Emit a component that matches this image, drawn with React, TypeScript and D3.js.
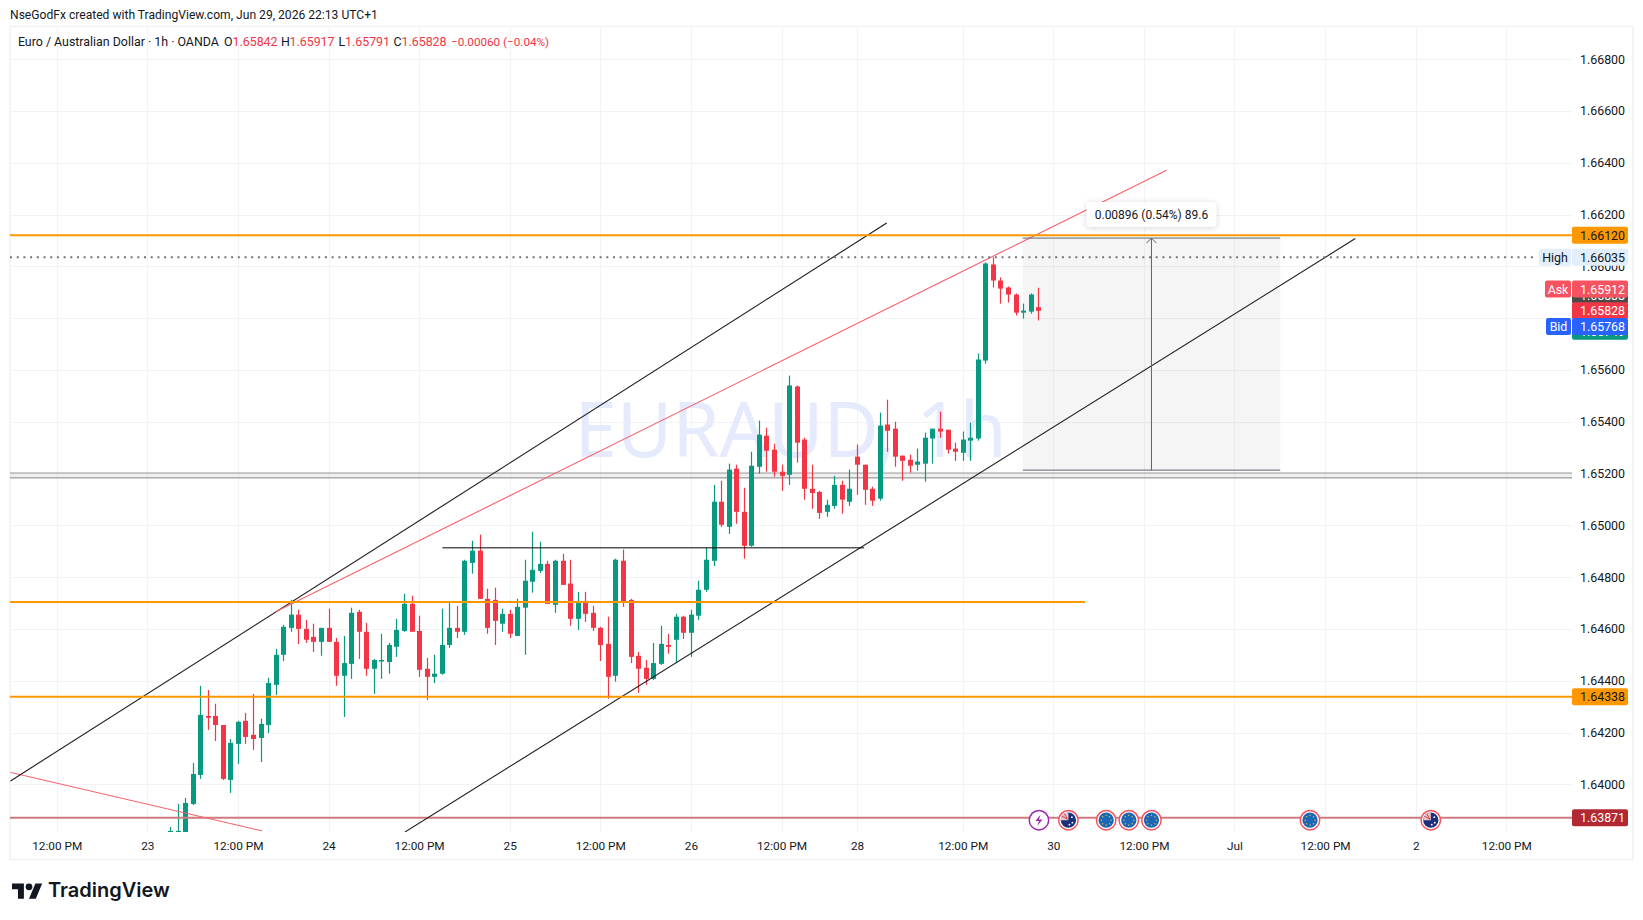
import { useEffect, useRef } from "react";
import * as d3 from "d3";

const FONT = "Roboto, sans-serif";
const FONT_SIZE = 12.4;
const FIRST_BAR = 15;

const opens = [
  1.63808, 1.63808, 1.63746, 1.63924, 1.64036, 1.64264, 1.64264, 1.64229, 1.64017, 1.64156,
  1.64245, 1.64191, 1.64179, 1.64229, 1.64384, 1.645, 1.64604, 1.64655, 1.646, 1.64569,
  1.6455, 1.64604, 1.6455, 1.64419, 1.64465, 1.64666, 1.64589, 1.64446, 1.64476, 1.64472,
  1.64531, 1.64592, 1.64697, 1.64592, 1.64446, 1.64415, 1.64427, 1.64538, 1.64604, 1.64589,
  1.64855, 1.64902, 1.64716, 1.64712, 1.6462, 1.64658, 1.64573, 1.64682, 1.64782, 1.64824,
  1.64851, 1.64693, 1.64863, 1.64775, 1.64639, 1.64708, 1.64662, 1.64604, 1.64542, 1.64419,
  1.64863, 1.64712, 1.64496, 1.6445, 1.64407, 1.64465, 1.64538, 1.64558, 1.64647, 1.64585,
  1.64651, 1.64751, 1.64863, 1.65091, 1.64994, 1.65219, 1.65052, 1.64921, 1.65226, 1.65346,
  1.65292, 1.65207, 1.65195, 1.65536, 1.65331, 1.65141, 1.65129, 1.65052, 1.65075, 1.65156,
  1.65091, 1.65265, 1.65234, 1.65141, 1.65103, 1.65389, 1.65373, 1.65269, 1.65253, 1.65234,
  1.65238, 1.65335, 1.65373, 1.65369, 1.65296, 1.6528, 1.65327, 1.65335, 1.65636, 1.66007,
  1.65945, 1.65918, 1.65891, 1.65821, 1.65825, 1.65842,
];
const highs = [
  1.63835, 1.63924, 1.63947, 1.64082, 1.6438, 1.64364, 1.64311, 1.64229, 1.64175, 1.64245,
  1.64276, 1.64349, 1.64253, 1.64411, 1.64523, 1.64616, 1.64712, 1.64674, 1.64635, 1.6462,
  1.64604, 1.64678, 1.64565, 1.64573, 1.64682, 1.64674, 1.64623, 1.64484, 1.64581, 1.64546,
  1.64639, 1.64736, 1.64728, 1.64651, 1.64488, 1.645, 1.64678, 1.64701, 1.64689, 1.64867,
  1.6494, 1.64964, 1.64755, 1.64759, 1.64678, 1.64674, 1.64716, 1.64867, 1.64975, 1.64936,
  1.64863, 1.64867, 1.6489, 1.64867, 1.64743, 1.64743, 1.64689, 1.64608, 1.64647, 1.64871,
  1.64906, 1.64716, 1.64511, 1.6448, 1.64546, 1.64612, 1.64581, 1.64658, 1.64651, 1.64674,
  1.64786, 1.64913, 1.65156, 1.65172, 1.65238, 1.65234, 1.65145, 1.65284, 1.65404, 1.65377,
  1.65315, 1.65234, 1.65578, 1.6554, 1.65338, 1.65234, 1.65133, 1.65099, 1.65191, 1.65172,
  1.65215, 1.65312, 1.65234, 1.65149, 1.65435, 1.65485, 1.654, 1.65269, 1.65273, 1.65296,
  1.65358, 1.65373, 1.65439, 1.65369, 1.65319, 1.65362, 1.65396, 1.65663, 1.66015, 1.66035,
  1.65957, 1.65922, 1.65895, 1.65856, 1.65895, 1.65917,
];
const lows = [
  1.63785, 1.63777, 1.63727, 1.6392, 1.64021, 1.6421, 1.64167, 1.64017, 1.63967, 1.64079,
  1.64156, 1.64133, 1.64086, 1.64198, 1.64345, 1.64476, 1.64589, 1.64542, 1.64546, 1.64511,
  1.64496, 1.6455, 1.6438, 1.6426, 1.64407, 1.64484, 1.64419, 1.64349, 1.64407, 1.64427,
  1.64492, 1.64589, 1.64589, 1.64415, 1.64326, 1.64391, 1.64423, 1.64527, 1.64565, 1.64577,
  1.64813, 1.64716, 1.64581, 1.64538, 1.64589, 1.64565, 1.64573, 1.645, 1.6474, 1.64816,
  1.64697, 1.64662, 1.6477, 1.64612, 1.64596, 1.64627, 1.64592, 1.64476, 1.6433, 1.64396,
  1.64685, 1.64468, 1.64353, 1.64384, 1.64403, 1.64461, 1.64504, 1.64468, 1.64561, 1.64492,
  1.64635, 1.64743, 1.64843, 1.64994, 1.64967, 1.65006, 1.64871, 1.64917, 1.65199, 1.65207,
  1.65188, 1.65133, 1.65156, 1.65242, 1.65099, 1.65064, 1.65025, 1.65033, 1.65064, 1.65045,
  1.65075, 1.65118, 1.65079, 1.65075, 1.65095, 1.65284, 1.65226, 1.65172, 1.65203, 1.65211,
  1.65168, 1.65238, 1.65338, 1.65277, 1.65249, 1.65249, 1.65249, 1.65327, 1.65624, 1.65918,
  1.65856, 1.6586, 1.6581, 1.65798, 1.65817, 1.65791,
];
const closes = [
  1.6382, 1.6382, 1.63928, 1.6404, 1.64268, 1.64257, 1.64229, 1.64021, 1.6416, 1.64241,
  1.64183, 1.64175, 1.64233, 1.64391, 1.645, 1.64608, 1.64655, 1.646, 1.64558, 1.6455,
  1.64604, 1.6455, 1.64419, 1.64468, 1.64662, 1.64589, 1.64446, 1.6448, 1.6448, 1.64538,
  1.64596, 1.64697, 1.64589, 1.64442, 1.64415, 1.64427, 1.64538, 1.64604, 1.64589, 1.64863,
  1.64902, 1.64716, 1.64604, 1.64631, 1.64658, 1.64581, 1.64685, 1.64786, 1.64828, 1.64851,
  1.64697, 1.64863, 1.6477, 1.64639, 1.64708, 1.64658, 1.64604, 1.64538, 1.64415, 1.64867,
  1.64704, 1.64492, 1.64446, 1.64407, 1.64468, 1.64542, 1.64531, 1.64647, 1.64585, 1.64655,
  1.64751, 1.64867, 1.65091, 1.65002, 1.65215, 1.65052, 1.64921, 1.6523, 1.6535, 1.65288,
  1.65207, 1.65191, 1.6554, 1.65319, 1.65141, 1.65125, 1.65048, 1.65079, 1.65156, 1.65099,
  1.65141, 1.65234, 1.65137, 1.65095, 1.65385, 1.65365, 1.65265, 1.65249, 1.6523, 1.65246,
  1.65338, 1.65373, 1.65362, 1.65292, 1.65284, 1.65331, 1.65338, 1.6564, 1.66011, 1.65945,
  1.65914, 1.65891, 1.65821, 1.65829, 1.65891, 1.65828,
];

const timeLabels = [
  "12:00 PM", "23", "12:00 PM", "24", "12:00 PM", "25", "12:00 PM", "26", "12:00 PM",
  "28", "12:00 PM", "30", "12:00 PM", "Jul", "12:00 PM", "2", "12:00 PM",
];
// every 12 bars, except "28" which sits 2 bars early after the weekend gap
const timeTicks = [0, 12, 24, 36, 48, 60, 72, 84, 96, 106, 120, 132, 144, 156, 168, 180, 192];
const priceTicks = d3.range(14, -1, -1).map((i) => 1.64 + i * 0.002);

const levelUpper = 1.6612;
const levelMid = 1.64704;
const levelLower = 1.64338;
const levelBase = 1.63871;
const dayHigh = 1.66035;
const greyBand = [1.65202, 1.65183];
const shelfPrice = 1.64913;
const shelfBars = [51.08, 106.94];
const midEndBar = 136.2;

// [bar, price] pairs of the hand drawn trend lines
const channelUpper = [[-6.12, 1.64013], [109.93, 1.66167]];
const channelLower = [[46.14, 1.63816], [172, 1.66107]];
const redRising = [[29, 1.64666], [147, 1.66371]];
const redFalling = [[-6.12, 1.64046], [27.2, 1.6382]];

const measureBars = [127.96, 162.06];
const measureArrowBar = 145;
const measurePrices = [1.66109, 1.65213];

const euEvents = [139, 142, 145, 166];
const auEvents = [134, 182];
const flashEvents = [130.1];

const GREEN = "#089981";
const RED = "#F23645";
const ORANGE = "#FF9800";
const GRID = "#f2f3f5";
const INK = "#131722";

export default function App() {
  const svgRef = useRef<SVGSVGElement>(null);

  useEffect(() => {
    const svg = d3.select(svgRef.current);
    svg.selectAll("*").remove();

    const pane = { left: 10, right: 1572, top: 27, bottom: 832 };
    const x = d3.scaleLinear().domain([0, 192]).range([56.7, 1506.3]);
    const y = d3.scaleLinear().domain([1.64, 1.668]).range([784.3, 59.1]);

    // Outer frame
    svg.append("rect").attr("x", 10).attr("y", 26.5).attr("width", 1623).attr("height", 833)
      .attr("fill", "#fff").attr("stroke", "#f0f1f3").attr("stroke-width", 1.5);

    svg.append("text").attr("x", 10).attr("y", 19).text("NseGodFx created with TradingView.com, Jun 29, 2026 22:13 UTC+1")
      .attr("font-size", 12.1).attr("fill", INK).style("font-family", FONT);

    svg.append("defs").append("clipPath").attr("id", "pane").append("rect")
      .attr("x", pane.left).attr("y", pane.top)
      .attr("width", pane.right - pane.left).attr("height", pane.bottom - pane.top);

    // Grid
    const grid = svg.append("g");
    grid.selectAll("line.h").data(priceTicks).join("line")
      .attr("x1", pane.left).attr("x2", pane.right)
      .attr("y1", (d) => Math.round(y(d)) + 0.5).attr("y2", (d) => Math.round(y(d)) + 0.5)
      .attr("stroke", GRID);
    grid.selectAll("line.v").data(timeTicks).join("line")
      .attr("x1", (d) => Math.round(x(d)) + 0.5).attr("x2", (d) => Math.round(x(d)) + 0.5)
      .attr("y1", pane.top).attr("y2", pane.bottom)
      .attr("stroke", GRID);

    const plot = svg.append("g").attr("clip-path", "url(#pane)");

    // Watermark
    plot.append("text").attr("x", 790.5).attr("y", 457).attr("text-anchor", "middle")
      .attr("font-size", 76).attr("fill", "#e5ebfd").style("font-family", "'Noto Sans', sans-serif")
      .text("EURAUD, 1h");

    // Measure box sits under the candles
    const mx0 = x(measureBars[0]);
    const mx1 = x(measureBars[1]);
    const my0 = y(measurePrices[0]);
    const my1 = y(measurePrices[1]);
    plot.append("rect").attr("x", mx0).attr("y", my0).attr("width", mx1 - mx0).attr("height", my1 - my0)
      .attr("fill", "rgba(110,110,110,0.065)");

    // Grey band
    plot.append("rect").attr("x", pane.left).attr("width", pane.right - pane.left)
      .attr("y", y(greyBand[0])).attr("height", y(greyBand[1]) - y(greyBand[0]))
      .attr("fill", "rgba(120,120,120,0.12)");
    plot.selectAll("line.band").data(greyBand).join("line")
      .attr("x1", pane.left).attr("x2", pane.right)
      .attr("y1", (d) => y(d)).attr("y2", (d) => y(d))
      .attr("stroke", "#9b9b9b").attr("stroke-width", 1.2);

    // Candles
    const bars = opens.map((o, i) => ({
      i: FIRST_BAR + i, o, h: highs[i], l: lows[i], c: closes[i],
    }));
    const candle = plot.selectAll("g.candle").data(bars).join("g");
    const cx = (d: { i: number }) => Math.round(x(d.i)) + 0.5;
    const colour = (d: { o: number; c: number }) => (d.c >= d.o ? GREEN : RED);
    candle.append("rect")
      .attr("x", (d) => cx(d) - 0.6).attr("width", 1.2)
      .attr("y", (d) => y(d.h)).attr("height", (d) => y(d.l) - y(d.h))
      .attr("fill", colour);
    candle.append("rect")
      .attr("x", (d) => cx(d) - 2.5).attr("width", 5)
      .attr("y", (d) => y(Math.max(d.o, d.c)))
      .attr("height", (d) => Math.max(1.5, Math.abs(y(d.o) - y(d.c))))
      .attr("fill", colour);

    const segment = d3.line<number[]>().x((d) => x(d[0])).y((d) => y(d[1]));
    const drawLine = (pts: number[][], stroke: string, width: number) =>
      plot.append("path").attr("d", segment(pts)).attr("fill", "none")
        .attr("stroke", stroke).attr("stroke-width", width);

    // Level lines and trend lines
    const xMin = x.invert(pane.left);
    const xMax = x.invert(pane.right);
    drawLine([[xMin, levelBase], [xMax, levelBase]], "#cf7a81", 2);
    drawLine(redFalling, "#f7606c", 1);
    drawLine(channelUpper, "#1c1c1c", 1.1);
    drawLine(channelLower, "#1c1c1c", 1.1);
    drawLine(redRising, "#f7606c", 1.1);
    drawLine([[shelfBars[0], shelfPrice], [shelfBars[1], shelfPrice]], "#000", 1);
    drawLine([[xMin, levelUpper], [xMax, levelUpper]], ORANGE, 2);
    drawLine([[xMin, levelMid], [midEndBar, levelMid]], ORANGE, 2);
    drawLine([[xMin, levelLower], [xMax, levelLower]], ORANGE, 2);
    drawLine([[xMin, dayHigh], [x.invert(1536), dayHigh]], "#72747a", 2)
      .attr("stroke-dasharray", "2 4.7");

    // Measure tool lines
    const ax = x(measureArrowBar);
    [my0, my1].forEach((v) => {
      plot.append("line").attr("x1", mx0).attr("x2", mx1).attr("y1", v).attr("y2", v)
        .attr("stroke", "#5d606b").attr("stroke-width", 1);
    });
    plot.append("line").attr("x1", ax).attr("x2", ax).attr("y1", my0).attr("y2", my1)
      .attr("stroke", "#5d606b").attr("stroke-width", 1);
    plot.append("path").attr("d", `M${ax - 5},${my0 + 5}L${ax},${my0}L${ax + 5},${my0 + 5}`)
      .attr("fill", "none").attr("stroke", "#5d606b").attr("stroke-width", 1);
    const boxW = 130;
    plot.append("rect").attr("x", ax - boxW / 2).attr("y", my0 - 36).attr("width", boxW).attr("height", 25)
      .attr("rx", 4).attr("fill", "#fff").style("filter", "drop-shadow(0 1px 3px rgba(0,0,0,0.16))");
    plot.append("text").attr("x", ax).attr("y", my0 - 19).attr("text-anchor", "middle")
      .attr("font-size", 12).attr("fill", INK).style("font-family", FONT)
      .text("0.00896 (0.54%) 89.6");

    // Event badges on the base line
    const eventY = y(levelBase) + 2.5;
    const badge = (bar: number) => {
      const g = plot.append("g").attr("transform", `translate(${x(bar)},${eventY})`);
      return g;
    };
    const ring = (g: any, stroke: string) =>
      g.append("circle").attr("r", 9.7).attr("fill", "#fff").attr("stroke", stroke).attr("stroke-width", 1.5);
    euEvents.forEach((bar) => {
      const g = badge(bar);
      ring(g, "#f7525f");
      g.append("circle").attr("r", 7.6).attr("fill", "#1a66b8");
      d3.range(8).forEach((n) => {
        const a = (n / 8) * 2 * Math.PI;
        g.append("circle").attr("cx", 4.9 * Math.cos(a)).attr("cy", 4.9 * Math.sin(a))
          .attr("r", 0.8).attr("fill", "#c9b94a");
      });
    });
    auEvents.forEach((bar) => {
      const g = badge(bar);
      ring(g, "#f7525f");
      g.append("circle").attr("r", 7.6).attr("fill", "#1c2f7a");
      g.append("path").attr("d", "M0,0L-7.6,0A7.6,7.6 0 0 1 0,-7.6Z").attr("fill", "#e9c4cb");
      g.append("path").attr("d", "M-6.5,-4L-1,-1M-4,-6.5L-1,-1").attr("stroke", "#d8404f").attr("stroke-width", 1);
      [[3.5, -3], [4, 2.5], [1, 4.5]].forEach((p) => {
        g.append("circle").attr("cx", p[0]).attr("cy", p[1]).attr("r", 0.9).attr("fill", "#fff");
      });
    });
    flashEvents.forEach((bar) => {
      const g = badge(bar);
      ring(g, "#9c27b0");
      g.append("path").attr("d", "M1.5,-5.5L-3.5,0.8H0L-1.5,5.5L3.5,-0.8H0Z").attr("fill", "#9c27b0");
    });

    // Price axis
    const priceAxis = d3.axisRight(y).tickValues(priceTicks).tickSize(0).tickPadding(8)
      .tickFormat((d) => (+d).toFixed(5));
    svg.append("g").attr("transform", `translate(${pane.right},0)`).call(priceAxis)
      .call((g) => {
        g.select(".domain").remove();
        g.selectAll("text").attr("font-size", FONT_SIZE).attr("fill", INK).style("font-family", FONT);
      });

    // Time axis
    const timeAxis = d3.axisBottom(x).tickValues(timeTicks).tickSize(0).tickPadding(10)
      .tickFormat((_, i) => timeLabels[i]);
    svg.append("g").attr("transform", `translate(0,${pane.bottom})`).call(timeAxis)
      .call((g) => {
        g.select(".domain").remove();
        g.selectAll("text").attr("font-size", 11.8).attr("fill", INK).style("font-family", FONT);
      });

    // Price tags on the axis
    const tag = (price: number, text: string, bg: string, fg: string, side?: string, sideW = 26) => {
      const py = y(price);
      const g = svg.append("g").attr("transform", `translate(${pane.right},${py})`);
      g.append("rect").attr("x", 0).attr("y", -8.5).attr("width", 56).attr("height", 17).attr("rx", 2).attr("fill", bg);
      g.append("text").attr("x", 8).attr("y", 4.5).attr("font-size", FONT_SIZE).attr("fill", fg)
        .style("font-family", FONT).text(text);
      if (side) {
        g.append("rect").attr("x", -sideW - 1).attr("y", -8.5).attr("width", sideW).attr("height", 17)
          .attr("rx", 2).attr("fill", bg);
        g.append("text").attr("x", -1 - sideW / 2).attr("y", 4.5).attr("text-anchor", "middle")
          .attr("font-size", FONT_SIZE).attr("fill", fg).style("font-family", FONT).text(side);
      }
    };
    tag(levelUpper, "1.66120", ORANGE, INK);
    tag(dayHigh, "1.66035", "#e3eefb", INK, "High", 32);
    tag(1.65888, "1.65888", "#4a4a4a", "#fff");
    tag(1.65749, "1.65749", GREEN, "#fff");
    tag(1.65828, "1.65828", RED, "#fff");
    tag(1.65768, "1.65768", "#2962FF", "#fff", "Bid", 25);
    tag(1.65912, "1.65912", "#f7525f", "#fff", "Ask", 26);
    tag(levelLower, "1.64338", ORANGE, INK);
    tag(levelBase, "1.63871", "#b22833", "#fff");

    // Legend
    const legend: [number, string, string, number][] = [
      [17.9, "Euro / Australian Dollar · 1h · OANDA", INK, FONT_SIZE],
      [224, "O", INK, FONT_SIZE], [232.5, "1.65842", RED, FONT_SIZE],
      [281, "H", INK, FONT_SIZE], [289.5, "1.65917", RED, FONT_SIZE],
      [338.5, "L", INK, FONT_SIZE], [345, "1.65791", RED, FONT_SIZE],
      [393.5, "C", INK, FONT_SIZE], [401.5, "1.65828", RED, FONT_SIZE],
      [451, "−0.00060 (−0.04%)", RED, 11.7],
    ];
    legend.forEach(([lx, text, fill, size]) => {
      svg.append("text").attr("x", lx).attr("y", 46).attr("font-size", size)
        .attr("fill", fill).style("font-family", FONT).text(text);
    });

    // Logo
    const logo = svg.append("g").attr("transform", "translate(12,880) scale(0.85)").attr("fill", "#131722");
    logo.append("path").attr("d", "M14 22H7V11H0V4h14v18zM28 22h-8l7.5-18h8L28 22z");
    logo.append("circle").attr("cx", 20).attr("cy", 8).attr("r", 4);
    svg.append("text").attr("x", 48).attr("y", 897).attr("font-size", 20).attr("font-weight", 600)
      .attr("fill", "#131722").style("font-family", "Inter, sans-serif").text("TradingView");
  }, []);

  return (
    <svg
      ref={svgRef}
      width={1643}
      height={920}
      style={{ position: "absolute", left: 0, top: 0, background: "#fff" }}
    />
  );
}
